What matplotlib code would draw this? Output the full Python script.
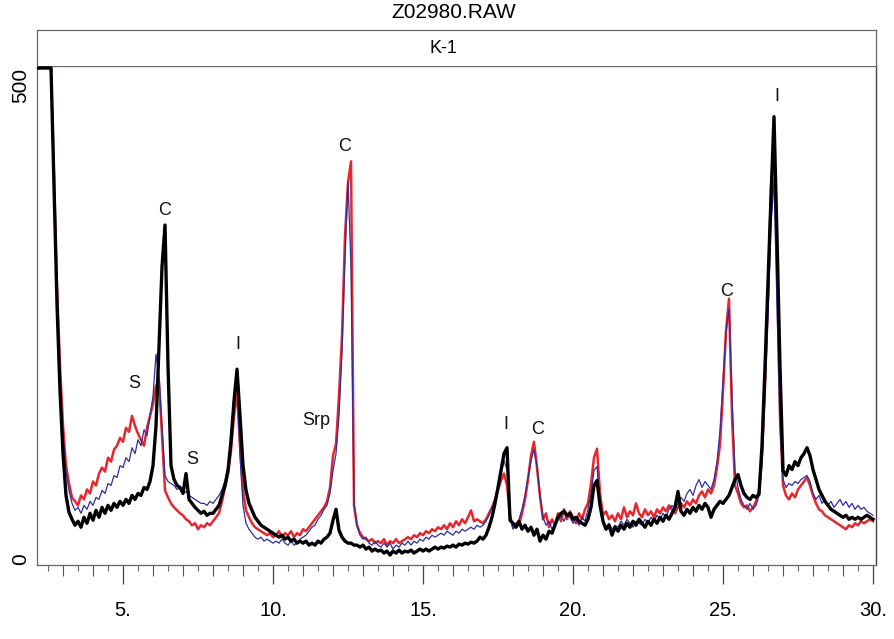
import numpy as np
import matplotlib.pyplot as plt
import matplotlib.transforms as mtransforms
from matplotlib.ticker import MultipleLocator

plt.rcParams['font.family'] = ['Liberation Sans', 'DejaVu Sans']

# sampling positions of the scan (2-theta, 0.1 deg steps)
two_theta = np.round(np.arange(2.1, 30.05, 0.1), 1)

black = [
    500, 500, 500, 500, 500, 500, 380, 262, 175, 112,
    70, 53, 46, 40, 44, 38, 48, 42, 52, 45,
    55, 48, 58, 52, 60, 55, 62, 58, 64, 60,
    66, 62, 70, 66, 72, 70, 78, 76, 84, 100,
    140, 220, 300, 342, 200, 100, 86, 80, 78, 72,
    92, 66, 62, 58, 55, 52, 54, 50, 52, 52,
    56, 60, 70, 80, 95, 125, 165, 197, 150, 100,
    75, 62, 55, 48, 44, 40, 38, 36, 34, 32,
    30, 28, 30, 26, 28, 24, 26, 22, 24, 22,
    24, 20, 22, 20, 24, 22, 26, 28, 32, 45,
    56, 35, 28, 24, 22, 22, 20, 20, 18, 20,
    16, 18, 14, 16, 14, 15, 12, 14, 10, 14,
    12, 15, 12, 14, 13, 15, 12, 14, 16, 14,
    16, 14, 16, 18, 16, 18, 17, 19, 18, 20,
    18, 21, 20, 22, 21, 23, 22, 24, 28, 26,
    30, 38, 48, 62, 78, 95, 112, 118, 45, 42,
    38, 44, 36, 40, 34, 38, 30, 36, 24, 30,
    26, 34, 32, 40, 48, 52, 54, 50, 52, 46,
    48, 44, 42, 40, 46, 58, 80, 85, 60, 44,
    36, 40, 30, 38, 34, 40, 36, 42, 38, 44,
    40, 46, 42, 38, 44, 40, 46, 42, 48, 44,
    50, 46, 52, 58, 74, 54, 50, 56, 52, 58,
    54, 60, 56, 62, 58, 48, 56, 60, 64, 62,
    66, 70, 78, 86, 91, 80, 72, 68, 66, 70,
    68, 71, 120, 200, 285, 370, 451, 330, 200, 95,
    90, 100, 96, 104, 100, 108, 112, 118, 110, 96,
    86, 76, 70, 64, 60, 56, 54, 52, 50, 48,
    50, 46, 48, 46, 48, 46, 48, 50, 48, 46,
]

red = [
    500, 500, 500, 500, 500, 500, 390, 280, 200, 140,
    100, 82, 68, 64, 60, 70, 66, 76, 72, 84,
    80, 92, 98, 94, 108, 104, 116, 120, 128, 124,
    138, 134, 150, 140, 132, 126, 120, 138, 150, 162,
    180, 185, 130, 75, 68, 62, 58, 55, 52, 50,
    46, 44, 40, 42, 36, 40, 38, 42, 40, 44,
    48, 52, 64, 78, 92, 115, 150, 175, 120, 75,
    55, 48, 42, 38, 36, 34, 32, 30, 32, 28,
    30, 34, 28, 32, 30, 34, 28, 32, 30, 36,
    34, 38, 42, 46, 50, 54, 58, 64, 78, 110,
    122, 170, 231, 331, 385, 406, 60, 40, 32, 28,
    26, 24, 26, 22, 24, 22, 26, 20, 24, 22,
    26, 22, 24, 26, 28, 26, 30, 28, 32, 30,
    34, 32, 36, 34, 38, 36, 40, 36, 42, 38,
    44, 40, 46, 42, 48, 55, 44, 46, 44, 42,
    46, 52, 58, 66, 76, 85, 92, 80, 50, 38,
    42, 40, 52, 66, 86, 110, 124, 98, 69, 46,
    52, 38, 46, 40, 52, 44, 56, 46, 54, 48,
    42, 52, 46, 56, 62, 82, 108, 117, 72, 50,
    54, 46, 50, 44, 52, 46, 58, 48, 54, 50,
    62, 52, 48, 56, 50, 54, 48, 56, 52, 58,
    54, 60, 56, 52, 58, 62, 58, 64, 60, 66,
    62, 70, 74, 68, 76, 72, 80, 98, 121, 175,
    235, 268, 150, 80, 72, 62, 58, 60, 54, 58,
    64, 75, 110, 180, 270, 380, 421, 300, 150, 80,
    70, 66, 72, 68, 76, 80, 84, 88, 80, 70,
    62, 56, 54, 50, 48, 46, 44, 42, 40, 38,
    36, 40, 38, 42, 40, 44, 42, 44, 46, 44,
]

blue = [
    500, 500, 500, 500, 500, 500, 385, 275, 190, 130,
    95, 75, 62, 55, 58, 52, 60, 56, 64, 60,
    68, 66, 75, 72, 82, 80, 90, 88, 100, 98,
    108, 104, 118, 112, 126, 120, 136, 130, 150, 170,
    212, 190, 140, 90, 84, 82, 80, 76, 78, 72,
    74, 70, 68, 66, 64, 62, 62, 60, 64, 62,
    66, 70, 76, 85, 100, 130, 170, 190, 110, 60,
    42, 36, 32, 28, 26, 28, 24, 26, 24, 22,
    24, 22, 26, 22, 20, 24, 20, 22, 26, 28,
    30, 34, 38, 40, 46, 50, 56, 60, 72, 95,
    112, 150, 215, 310, 386, 300, 62, 40, 30, 26,
    28, 22, 20, 24, 20, 18, 22, 18, 22, 16,
    20, 18, 22, 20, 24, 20, 24, 22, 26, 24,
    28, 26, 30, 28, 30, 32, 30, 34, 32, 30,
    34, 32, 36, 34, 36, 38, 36, 40, 38, 40,
    44, 50, 58, 66, 78, 92, 105, 96, 50, 36,
    40, 46, 56, 70, 88, 105, 116, 100, 70, 48,
    40, 44, 36, 42, 46, 50, 44, 52, 48, 42,
    46, 40, 48, 44, 56, 72, 95, 99, 64, 44,
    38, 42, 36, 40, 38, 44, 40, 46, 42, 38,
    44, 42, 40, 46, 42, 48, 44, 50, 46, 52,
    48, 56, 60, 56, 62, 68, 64, 72, 76, 70,
    80, 86, 78, 84, 80, 76, 86, 104, 135, 185,
    235, 258, 170, 95, 78, 66, 60, 56, 62, 56,
    60, 70, 100, 170, 250, 340, 388, 260, 140, 86,
    78, 82, 80, 84, 82, 86, 88, 90, 84, 72,
    66, 70, 62, 66, 60, 64, 58, 62, 66, 60,
    64, 58, 62, 56, 60, 56, 58, 54, 52, 50,
]

peak_labels = ["C", "S", "S", "I", "Srp", "C", "I", "C", "C", "I"]
label_x = [6.4, 5.37, 7.3, 8.83, 11.43, 12.4, 17.77, 18.83, 25.13, 26.8]
label_y = [357, 183, 106, 222, 145, 421, 141, 136, 275, 471]

x_ticks = [5, 10, 15, 20, 25, 30]
x_tick_labels = ["5.", "10.", "15.", "20.", "25.", "30."]

W, H = 895, 639
fig = plt.figure(figsize=(W / 100, H / 100), dpi=100)
ax = fig.add_axes([37 / W, (H - 565) / H, 839 / W, 499 / H])
hdr = fig.add_axes([37 / W, (H - 66) / H, 839 / W, 36 / H])

frame_col = "#666666"

# traces: red, then thin blue, black on top
ax.plot(two_theta, red, color="#e8262e", lw=1.8, zorder=2)
ax.plot(two_theta, blue, color="#2e2e9e", lw=0.9, zorder=3)
ax.plot(two_theta, black, color="black", lw=2.4, zorder=4)

for txt, lx, ly in zip(peak_labels, label_x, label_y):
    ax.text(lx, ly, txt, ha="center", va="center", fontsize=13, color="#111111")

ax.set_xlim(2.133, 30.1)
ax.set_ylim(0, 502)

ax.set_xticks(x_ticks)
ax.set_xticklabels(x_tick_labels)
ax.xaxis.set_minor_locator(MultipleLocator(1))
ax.tick_params(axis="x", which="major", direction="out", length=14, width=0.9,
               color="#444444", pad=12, labelsize=14.5)
ax.tick_params(axis="x", which="minor", direction="out", length=8, width=0.8,
               color="#555555")
ax.set_yticks([])

# half-degree ticks
half = ax.secondary_xaxis("bottom")
half.set_xticks(np.arange(2.5, 30.1, 1.0))
half.tick_params(axis="x", direction="out", length=4.5, width=0.8,
                 color="#666666", labelbottom=False)
half.spines["bottom"].set_visible(False)

for side in ["left", "top", "bottom"]:
    ax.spines[side].set_color(frame_col)
    ax.spines[side].set_linewidth(0.9)
ax.spines["right"].set_color("#444444")
ax.spines["right"].set_linewidth(1.0)

# y labels drawn rotated beside the frame
trans = mtransforms.blended_transform_factory(fig.transFigure, ax.transData)
ax.text(21 / W, 500, "500", rotation=90, ha="center", va="top", fontsize=15,
        transform=trans)
ax.text(21 / W, 0, "0", rotation=90, ha="center", va="bottom", fontsize=15,
        transform=trans)

# header box
hdr.set_xticks([])
hdr.set_yticks([])
for side in ["left", "top", "right"]:
    hdr.spines[side].set_color(frame_col)
    hdr.spines[side].set_linewidth(0.9)
hdr.spines["bottom"].set_visible(False)
hdr.text(0.485, 0.48, "K-1", ha="center", va="center", fontsize=13,
         transform=hdr.transAxes)

fig.text(454 / W, 1 - 13 / H, "Z02980.RAW", ha="center", va="center", fontsize=15)

fig.savefig("out.png", dpi=100)
